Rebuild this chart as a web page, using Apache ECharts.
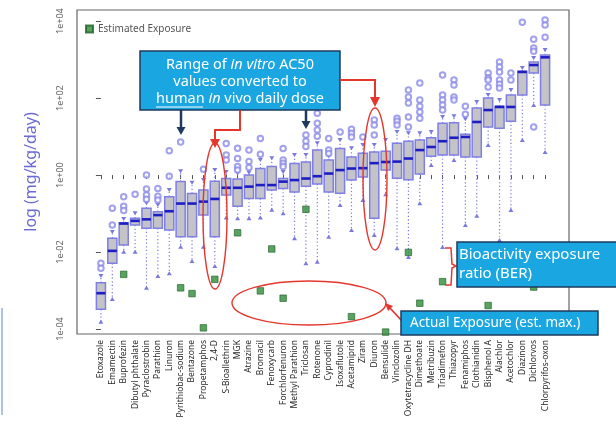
<!DOCTYPE html>
<html>
<head>
<meta charset="utf-8">
<script src="https://cdn.jsdelivr.net/npm/echarts@6/dist/echarts.min.js"></script>
<style>
  html, body { margin: 0; padding: 0; background: #ffffff; }
  #chart { width: 616px; height: 439px; }
</style>
</head>
<body>
<div id="chart"></div>
<script>
// Chemicals, ordered by median bioactive dose
const chemicals = [
  'Etoxazole', 'Emamectin', 'Buprofezin', 'Dibutyl phthalate', 'Pyraclostrobin',
  'Parathion', 'Linuron', 'Pyrithiobac-sodium', 'Bentazone', 'Propetamphos',
  '2,4-D', 'S-Bioallethrin', 'MGK', 'Atrazine', 'Bromacil',
  'Fenoxycarb', 'Forchlorfenuron', 'Methyl Parathion', 'Triclosan', 'Rotenone',
  'Cyprodinil', 'Isoxaflutole', 'Acetamiprid', 'Ziram', 'Diuron',
  'Bensulide', 'Vinclozolin', 'Oxytetracycline DH', 'Dimethoate', 'Metribuzin',
  'Triadimefon', 'Thiazopyr', 'Fenamiphos', 'Clothianidin', 'Bisphenol A',
  'Alachlor', 'Acetochlor', 'Diazinon', 'Dichlorvos', 'Chlorpyrifos-oxon'
];

// Oral equivalent doses, log10(mg/kg/day)
const whiskerLow = [-3.81, -3.22, -1.99, -1.99, -2.93, -2.62, -2.55, -1.86, -2.23, -1.86,
  -2.36, -1.10, -1.12, -1.12, -1.10, -0.90, -0.99, -1.64, -2.29, -2.25,
  -1.60, -0.78, -1.43, -0.65, -1.56, -0.50, -1.90, -2.13, -0.73, 0.26,
  -1.87, 0.39, -1.30, -1.06, 0.78, -1.69, -0.91, 0.91, 1.82, 0.60];
const quartile1 = [-3.49, -2.29, -1.82, -1.30, -1.38, -1.38, -1.43, -1.60, -1.60, -1.04,
  -1.60, -0.52, -0.81, -0.61, -0.61, -0.39, -0.35, -0.44, -0.29, -0.23,
  -0.44, -0.47, -0.13, -0.05, -1.12, 0.13, -0.08, -0.12, 0.03, 0.49,
  0.52, 0.52, 0.47, 0.47, 1.25, 1.22, 1.40, 2.08, 2.65, 1.82];
const medians = [-3.07, -1.97, -1.26, -1.19, -1.15, -1.04, -0.94, -0.74, -0.74, -0.69,
  -0.62, -0.33, -0.33, -0.30, -0.26, -0.26, -0.17, -0.13, -0.09, -0.03,
  0.04, 0.13, 0.17, 0.18, 0.31, 0.34, 0.35, 0.43, 0.65, 0.73,
  0.88, 0.97, 0.99, 1.38, 1.69, 1.77, 1.77, 2.68, 2.86, 3.06];
const quartile3 = [-2.80, -1.64, -1.24, -1.12, -0.86, -0.95, -0.56, -0.17, -0.48, -0.39,
  -0.16, -0.09, -0.10, 0.00, 0.17, 0.22, -0.09, 0.30, 0.34, 0.65,
  0.39, 0.69, 0.47, 0.57, 0.60, 0.62, 0.83, 0.88, 0.91, 0.97,
  1.35, 1.36, 1.06, 1.74, 2.00, 1.79, 2.08, 2.70, 2.94, 3.12];
const whiskerHigh = [-2.62, -1.48, -1.14, -0.99, -0.73, -0.78, -0.39, 0.10, -0.20, -0.13,
  0.13, 0.08, 0.05, 0.06, 0.39, 0.44, 0.08, 0.52, 0.52, 0.83,
  0.49, 0.91, 0.70, 0.78, 0.78, 0.91, 1.12, 1.09, 1.09, 1.12,
  1.51, 1.53, 1.45, 1.90, 2.08, 1.95, 2.21, 2.78, 3.04, 3.25];
const outliers = [
  [-2.29, -2.42], [-0.86, -1.30], [-0.56, -0.81, -0.92], [-0.50], [0.00, -0.36, -0.52, -0.63],
  [-0.35, -0.55, -0.65], [0.63, -0.03], [0.86], [], [0.15],
  [], [0.82, 0.52, 0.39], [0.70, 0.43, 0.22, 0.13], [0.65, 0.35, 0.20], [0.95, 0.54],
  [], [0.69, 0.39, 0.31, 0.22], [], [1.04, 0.88, 0.74], [1.61, 1.35, 1.17, 1.01],
  [0.95, 0.65, 0.56], [1.12], [1.19, 1.09, 0.99], [0.99], [1.43, 1.30, 1.04],
  [], [1.48, 1.40, 1.30], [2.21, 2.03, 1.87, 1.51, 1.25], [2.39, 1.95, 1.79, 1.64, 1.48], [],
  [2.60, 2.08, 1.95, 1.82, 1.69], [2.47, 2.34, 2.03, 1.95], [1.79, 1.58], [], [2.65, 2.52, 2.47, 2.29],
  [2.94, 2.81, 2.68, 2.47, 2.36, 2.26], [2.65, 2.47], [3.97], [3.53, 3.30, 3.22, 1.25], [4.03, 3.90, 3.58]
];
// Estimated exposure, log10(mg/kg/day); null where not estimated
const exposure = [null, null, -2.58, null, null, null, null, -2.93, -3.08, -3.97,
  -2.71, null, -1.50, null, -3.01, -1.92, -3.20, null, -0.89, null,
  null, null, -3.68, null, null, -4.08, null, -2.01, -3.33, null,
  -2.77, null, null, null, -3.39, null, null, null, -2.91, null];

const yTicks = [-4, -2, 0, 2, 4];

const idx = chemicals.map((_, i) => i);
const boxRows = idx.map(i => [i, whiskerLow[i], quartile1[i], medians[i], quartile3[i], whiskerHigh[i]]);
const outlierPoints = [];
outliers.forEach((vals, i) => vals.forEach(v => outlierPoints.push([i, v])));
const exposurePoints = [];
exposure.forEach((v, i) => { if (v !== null) exposurePoints.push([i, v]); });

const BOX_STROKE = '#7f7fe4';
const WHISKER = '#7a7ade';
const MEDIAN = '#1d1dc6';
const RED = '#e5362c';
const NAVY = '#1f3a5c';
const CALLOUT = '#1aa6e0';
const FONT = '"Noto Sans", sans-serif';

function expLabel(v) {
  const a = Math.abs(v);
  return '1e' + (v < 0 ? '-' : '+') + (a < 10 ? '0' : '') + a;
}

function renderBox(params, api) {
  const i = api.value(0);
  const w = api.size([0.8, 0])[0];
  const lo = api.coord([i, api.value(1)]);
  const q1 = api.coord([i, api.value(2)]);
  const md = api.coord([i, api.value(3)]);
  const q3 = api.coord([i, api.value(4)]);
  const hi = api.coord([i, api.value(5)]);
  const x = md[0];
  const dotted = { stroke: WHISKER, lineWidth: 1.2, lineDash: [1.2, 2.4] };
  return {
    type: 'group',
    children: [
      { type: 'line', shape: { x1: x, y1: q1[1], x2: x, y2: lo[1] }, style: dotted },
      { type: 'line', shape: { x1: x, y1: q3[1], x2: x, y2: hi[1] }, style: dotted },
      { type: 'polygon', shape: { points: [[x - 2.5, lo[1] + 2], [x + 2.5, lo[1] + 2], [x, lo[1] - 2]] },
        style: { fill: WHISKER } },
      { type: 'polygon', shape: { points: [[x - 2.5, hi[1] - 2], [x + 2.5, hi[1] - 2], [x, hi[1] + 2]] },
        style: { fill: WHISKER } },
      { type: 'rect', shape: { x: x - w / 2, y: q3[1], width: w, height: q1[1] - q3[1] },
        style: { fill: '#c3c3c8', stroke: BOX_STROKE, lineWidth: 1.5 } },
      { type: 'line', shape: { x1: x - w / 2, y1: md[1], x2: x + w / 2, y2: md[1] },
        style: { stroke: MEDIAN, lineWidth: 2.6 } }
    ]
  };
}

const chart = echarts.init(document.getElementById('chart'), null, { renderer: 'canvas' });

const annotations = [
  // page rule at the left margin
  { type: 'line', shape: { x1: 2, y1: 308, x2: 2, y2: 415 }, style: { stroke: '#a8c2ec', lineWidth: 2 } },
  // highlighted chemicals and exposure cluster
  { type: 'ellipse', shape: { cx: 215, cy: 216, rx: 12, ry: 73 }, style: { fill: null, stroke: RED, lineWidth: 1.4 } },
  { type: 'ellipse', shape: { cx: 375, cy: 179, rx: 12, ry: 71 }, style: { fill: null, stroke: RED, lineWidth: 1.4 } },
  { type: 'ellipse', shape: { cx: 309, cy: 303, rx: 77, ry: 22 }, style: { fill: null, stroke: RED, lineWidth: 1.4 } },
  // callout: AC50 range
  { type: 'rect', shape: { x: 140, y: 51, width: 200, height: 59 }, style: { fill: CALLOUT, stroke: NAVY, lineWidth: 1.5 } },
  { type: 'text', x: 240, y: 82, style: {
      text: '{n|Range of }{i|in vitro}{n| AC50}\n{n|values converted to}\n{n|human}{i| in}{n| vivo daily dose}',
      align: 'center', verticalAlign: 'middle',
      rich: {
        n: { fill: '#ffffff', fontSize: 14.5, fontFamily: FONT, lineHeight: 17 },
        i: { fill: '#ffffff', fontSize: 14.5, fontFamily: FONT, fontStyle: 'italic', lineHeight: 17 }
      }
  } },
  { type: 'line', shape: { x1: 156, y1: 107, x2: 203, y2: 107 }, style: { stroke: '#ffffff', lineWidth: 1 } },
  // navy pointers
  { type: 'line', shape: { x1: 181, y1: 110, x2: 181, y2: 128 }, style: { stroke: NAVY, lineWidth: 2.5 } },
  { type: 'polygon', shape: { points: [[176.5, 127], [185.5, 127], [181, 135]] }, style: { fill: NAVY } },
  { type: 'line', shape: { x1: 306, y1: 110, x2: 306, y2: 122 }, style: { stroke: NAVY, lineWidth: 2.5 } },
  { type: 'polygon', shape: { points: [[301.5, 121], [310.5, 121], [306, 129]] }, style: { fill: NAVY } },
  // red pointers to the ellipses
  { type: 'polyline', shape: { points: [[240, 110], [240, 130], [215, 130], [215, 141]] }, style: { stroke: RED, lineWidth: 2, fill: null } },
  { type: 'polygon', shape: { points: [[210, 139], [220, 139], [215, 148]] }, style: { fill: RED } },
  { type: 'polyline', shape: { points: [[340, 80], [375, 80], [375, 99]] }, style: { stroke: RED, lineWidth: 2, fill: null } },
  { type: 'polygon', shape: { points: [[370, 97], [380, 97], [375, 107]] }, style: { fill: RED } },
  // BER bracket and label
  { type: 'polyline', shape: { points: [[445, 248], [451, 248], [452, 264], [456, 266], [452, 268], [451, 285], [445, 285]] },
    style: { stroke: RED, lineWidth: 1.5, fill: null } },
  { type: 'rect', shape: { x: 457, y: 242, width: 160, height: 45 }, style: { fill: CALLOUT, stroke: NAVY, lineWidth: 1.5 } },
  { type: 'text', x: 459, y: 264, style: {
      text: 'Bioactivity exposure\nratio (BER)', fill: '#ffffff', fontSize: 15, fontFamily: FONT,
      lineHeight: 19, align: 'left', verticalAlign: 'middle'
  } },
  // actual exposure label and pointer
  { type: 'line', shape: { x1: 402, y1: 321, x2: 389, y2: 307 }, style: { stroke: RED, lineWidth: 1.8 } },
  { type: 'polygon', shape: { points: [[385, 303], [393, 306], [388, 311]] }, style: { fill: RED } },
  { type: 'rect', shape: { x: 401, y: 311, width: 197, height: 24 }, style: { fill: CALLOUT, stroke: NAVY, lineWidth: 1.5 } },
  { type: 'text', x: 410, y: 323.5, style: {
      text: 'Actual Exposure (est. max.)', fill: '#ffffff', fontSize: 13.5, fontFamily: FONT,
      align: 'left', verticalAlign: 'middle'
  } },
  // y axis title
  { type: 'text', x: 31, y: 172, rotation: Math.PI / 2, style: {
      text: 'log (mg/kg/day)', fill: '#6a6ad4', fontSize: 16, fontFamily: FONT,
      align: 'center', verticalAlign: 'middle'
  } }
].map(g => Object.assign({ z: 100 }, g));

chart.setOption({
  animation: false,
  backgroundColor: '#ffffff',
  grid: { left: 77, top: 10, width: 492, height: 324, show: true, borderColor: '#666666', borderWidth: 1.2, backgroundColor: 'transparent' },
  legend: {
    data: ['Estimated Exposure'], left: 80, top: 19, itemWidth: 7, itemHeight: 7, icon: 'rect',
    textStyle: { fontSize: 10, color: '#555555', fontFamily: FONT }
  },
  xAxis: {
    type: 'value', min: -2.1, max: 41.1,
    splitLine: { show: false }, axisLine: { show: false },
    axisTick: { show: true, customValues: idx, length: 4, lineStyle: { color: '#555555' } },
    axisLabel: {
      customValues: idx, rotate: 90, fontSize: 8.5, color: '#2a2a2a', margin: 6, fontFamily: FONT,
      formatter: v => chemicals[Math.round(v)]
    }
  },
  yAxis: {
    type: 'value', min: -4.13, max: 4.29,
    splitLine: { show: false }, axisLine: { show: false },
    axisTick: { show: true, customValues: yTicks, length: 5, lineStyle: { color: '#555555' } },
    axisLabel: { customValues: yTicks, rotate: 90, fontSize: 9, color: '#666666', margin: 12, fontFamily: FONT, formatter: expLabel }
  },
  series: [
    { type: 'custom', name: 'Dose range', renderItem: renderBox, data: boxRows, z: 2,
      encode: { x: 0, y: [1, 2, 3, 4, 5] } },
    { type: 'scatter', name: 'Outliers', data: outlierPoints, symbol: 'emptyCircle', symbolSize: 5.5, z: 3,
      itemStyle: { color: '#8a8ae8', borderColor: '#8a8ae8', borderWidth: 1 } },
    { type: 'scatter', name: 'Estimated Exposure', data: exposurePoints, symbol: 'rect', symbolSize: 6.5, z: 4,
      itemStyle: { color: '#2f8c3a', borderColor: '#1e5f26', borderWidth: 0.8 } }
  ],
  graphic: { elements: annotations }
});
</script>
</body>
</html>
